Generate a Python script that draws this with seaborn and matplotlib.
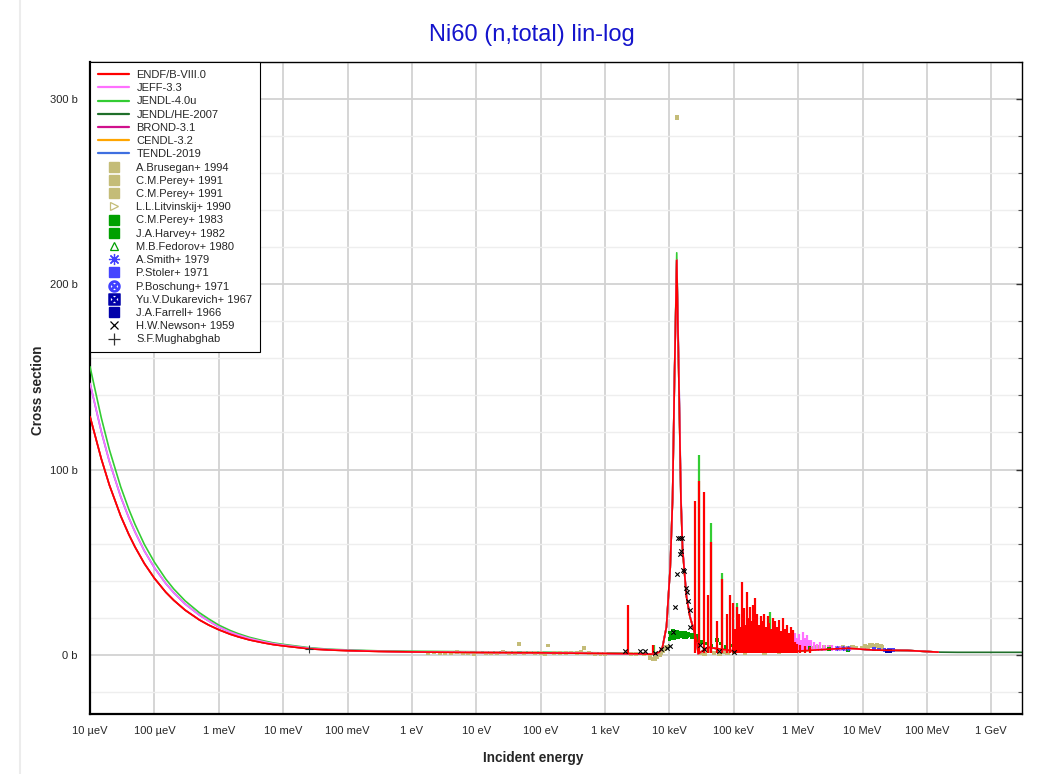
import matplotlib
matplotlib.use("Agg")
import matplotlib.pyplot as plt
import seaborn as sns
from matplotlib.lines import Line2D
from matplotlib.ticker import FixedLocator, MultipleLocator

# ---- evaluated libraries on a common grid (energy in eV, cross section in b)
energy_eV = [1e-5, 1.5e-5, 2e-5, 3e-5, 4e-5, 5e-5, 7e-5, 1e-4, 1.5e-4, 2e-4, 3e-4, 5e-4, 7e-4,
             1e-3, 1.5e-3, 2e-3, 3e-3, 5e-3, 7e-3, 1e-2, 2.53e-2, 5e-2, 0.1, 0.3,
             1, 10, 100, 1e3, 3e3, 5e3, 6e3, 7e3, 7.8e3, 9e3, 1.03e4, 1.12e4, 1.2e4, 1.3e4,
             1.4e4, 1.51e4, 1.6e4, 1.84e4, 2.08e4, 2.65e4, 2.8e4, 4e4, 1e5, 3e5, 1e6, 3e6,
             6e6, 1.5e7, 5e7, 1.5e8]
endf_b = [128.6, 105.7, 91.6, 74.9, 65.0, 58.2, 49.2, 41.3, 33.8, 29.4, 24.1, 18.8, 16.0,
          13.5, 11.1, 9.7, 8.0, 6.4, 5.5, 4.8, 3.2, 2.6, 2.2, 1.8,
          1.5, 1.2, 1.0, 0.7, 0.5, 0.3, 0.4, 1.5, 4.0, 15, 47, 84, 150, 213,
          150, 84, 57, 31.5, 20.7, 8.0, 0.5, 4.0, 2.0, 1.5, 2.0, 3.0,
          3.5, 2.5, 2.3, 1.4]
jeff_b = [146.5, 120.4, 104.3, 85.3, 74.0, 66.3, 56.0, 47.0, 38.5, 33.5, 27.4, 21.4, 18.2,
          15.0, 12.3, 10.7, 8.8, 7.0, 6.0, 5.2, 3.5, 2.8, 2.4, 1.9,
          1.6, 1.3, 1.1, 0.7, 0.5, 0.3, 0.4, 1.5, 4.0, 15, 47, 84, 150, 213,
          155, 86, 58, 32, 21, 8.0, 0.5, 4.0, 2.0, 1.5, 2.5, 3.0,
          3.5, 2.5, 2.3, 1.4]
jendl_b = [155.5, 127.8, 110.7, 90.6, 78.6, 70.4, 59.5, 50.0, 40.9, 35.5, 29.1, 22.7, 19.3,
           16.0, 13.1, 11.4, 9.4, 7.5, 6.4, 5.6, 3.8, 3.0, 2.6, 2.1,
           1.9, 1.6, 1.4, 1.0, 0.6, 0.3, 0.4, 1.5, 4.0, 15, 47, 84, 150, 217,
           150, 84, 57, 31.5, 20.7, 8.0, 0.5, 4.0, 2.0, 1.5, 2.0, 3.0,
           3.5, 2.5, 2.3, 1.4]

he_E = [1.5e7, 5e7, 1.5e8, 3e8, 1e9, 3e9]
he_b = [2.5, 2.3, 1.4, 1.3, 1.3, 1.3]

# narrow resonances (peak heights)
endf_res_E = [2.31e3, 5.65e3, 2.47e4, 2.93e4, 3.42e4, 4.04e4, 4.40e4, 5.45e4, 6.68e4, 7.9e4,
              8.8e4, 9.9e4, 1.11e5, 1.21e5, 1.33e5, 1.42e5, 1.60e5, 1.70e5, 1.80e5, 1.93e5,
              2.02e5, 2.15e5, 2.31e5, 2.48e5, 2.62e5, 2.76e5, 2.97e5, 3.19e5, 3.36e5, 3.55e5,
              3.81e5, 4.10e5, 4.40e5, 4.72e5, 5.07e5, 5.45e5, 5.86e5, 6.29e5, 6.76e5, 7.26e5,
              7.80e5, 8.38e5, 8.99e5, 9.66e5, 1.08e6, 1.29e6, 1.54e6]
endf_res_b = [27, 5, 83, 94, 88, 32, 61, 18, 41, 22,
              32, 28, 26, 22, 39, 25, 34, 20, 26, 18,
              27, 30.5, 22, 16, 21, 18, 22, 15, 21, 17,
              14, 20, 18, 15, 19, 13, 20, 14, 16, 12,
              15, 13.5, 7, 6, 5, 4.5, 4]
endf_fill_E = [1.05e5, 1.16e5, 1.27e5, 1.37e5, 1.50e5, 1.65e5, 1.75e5, 1.87e5, 1.97e5, 2.08e5,
               2.23e5, 2.40e5, 2.55e5, 2.69e5, 2.86e5, 3.08e5, 3.28e5, 3.45e5, 3.68e5, 3.95e5,
               4.25e5, 4.56e5, 4.90e5, 5.26e5, 5.65e5, 6.07e5, 6.52e5, 7.0e5, 7.53e5, 8.1e5]
endf_fill_b = [14, 10, 15, 9, 16, 11, 13, 8, 12, 14,
               9, 11, 12, 8, 11, 9, 10, 7, 10, 11,
               8, 10, 7, 9, 8, 9, 7, 8, 6, 7]
jendl_res_E = [5.8e3, 2.93e4, 4.40e4, 6.68e4, 1.11e5, 3.68e5]
jendl_res_b = [5, 108, 71, 44, 28, 23]
jeff_res_E = [8.99e5, 9.66e5, 1.04e6, 1.11e6, 1.20e6, 1.29e6, 1.38e6, 1.48e6, 1.59e6, 1.77e6,
              1.98e6, 2.2e6, 2.54e6, 2.93e6, 3.38e6, 3.9e6, 4.5e6, 5.38e6, 6.4e6]
jeff_res_b = [12, 9, 11, 8, 12.5, 9, 10.8, 8, 8, 7,
              6, 7, 5, 5.5, 5, 4.5, 4.5, 4, 4]
endf_floor = 1.0
jeff_floor = 2.0

# ---- experimental data
brusegan_E = [1.8, 2.2, 2.7, 3.3, 4.1, 5, 6.2, 7.5, 9.2, 11, 14, 17, 21, 26, 32, 40, 46,
              55, 68, 83, 100, 115, 130, 160, 200, 250, 300, 370, 430, 470, 560, 700, 850, 1000]
brusegan_b = [0.9, 1.2, 0.7, 1.1, 0.8, 1.3, 0.9, 1.0, 0.6, 1.2, 0.8, 1.1, 0.9, 1.3, 0.8, 1.0, 6.0,
              0.9, 1.2, 0.7, 1.0, 0.6, 5.0, 0.8, 1.1, 0.9, 1.2, 0.7, 1.5, 3.5, 0.8, 0.6, 0.4, 0.2]
perey91_E = [2.5e3, 3e3, 4e3, 5e3, 5.5e3, 6e3, 6.5e3, 7e3, 7.5e3, 8e3, 8.5e3, 9e3, 1.32e4,
             3e4, 3.5e4, 4e4, 5e4, 6e4, 7e4, 8e4, 1e5, 1.2e5, 1.5e5, 2e5, 2.5e5, 3e5, 4e5,
             5e5, 6e5, 8e5, 1e6, 1.3e6, 1.6e6, 2e6, 2.5e6, 3e6, 4e6, 5e6, 6e6, 7e6, 8e6,
             1e7, 1.1e7, 1.2e7, 1.3e7, 1.4e7, 1.5e7, 1.6e7, 1.7e7, 1.8e7, 1.9e7, 2e7]
perey91_b = [0.5, 0.3, 0.2, -1.5, -2.5, -2.0, -1.0, 0.0, 1.0, 2.0, 3.0, 4.0, 290,
             1.0, 0.5, 2.0, 1.0, 0.5, 1.5, 0.8, 1.5, 2.0, 1.0, 2.5, 1.8, 1.0, 2.2,
             1.5, 2.5, 3.0, 3.5, 4.0, 3.8, 4.2, 4.0, 4.3, 3.8, 4.0, 3.6, 3.9, 3.5,
             3.8, 4.5, 4.2, 5.2, 5.0, 4.6, 4.8, 5.4, 4.4, 4.9, 4.0]
harvey_E = [1.0e4, 1.03e4, 1.05e4, 1.08e4, 1.1e4, 1.13e4, 1.15e4, 1.18e4, 1.2e4, 1.23e4,
            1.25e4, 1.28e4, 1.3e4, 1.33e4, 1.35e4, 1.38e4, 1.4e4, 1.45e4, 1.5e4, 1.55e4,
            1.6e4, 1.65e4, 1.7e4, 1.75e4, 1.8e4, 1.85e4, 1.9e4, 1.95e4, 2.0e4, 2.1e4,
            2.2e4, 2.3e4, 2.4e4, 2.5e4, 2.6e4, 2.7e4, 3.2e4, 3.6e4, 4.5e4, 5.5e4,
            6.2e4, 7.5e4, 9e4, 1.1e5, 2.0e5, 5e5, 8e5, 1.5e6, 3e6, 6e6]
harvey_b = [8.5, 12, 10, 9, 11, 13, 10.5, 9, 11.5, 12.5,
            10, 9.5, 11, 12.5, 12, 9.5, 10.5, 11, 10, 12,
            11.5, 9.5, 10.5, 12, 11, 9.5, 10, 11.5, 10.5, 11,
            9.5, 10, 11, 9.5, 10, 8, 7, 6, 5, 8,
            6, 4, 5, 9, 7, 6, 4, 3.5, 3, 2.5]
stoler_E = [1.5e7, 1.8e7, 2.2e7, 2.6e7, 3.0e7]
stoler_b = [3.0, 2.8, 2.6, 2.5, 2.4]
smith_E = [4e6, 5e6, 6e6]
smith_b = [3.8, 3.6, 3.5]
farrell_E = [2.4e7, 2.7e7]
farrell_b = [2.0, 2.0]
newson_E = [2060, 3500, 4200, 6000, 7450, 9200, 10300, 11200, 12300, 13200, 13700, 14400,
            14700, 15300, 15800, 16400, 16600, 18300, 18500, 19600, 20600, 21100,
            30000, 35000, 60000, 100000]
newson_b = [1.8, 1.8, 1.8, 1.0, 3.0, 3.7, 4.5, 12.5, 26, 43.5, 63, 54.5,
            63, 56, 63, 46, 45, 36, 34, 29, 24, 15,
            5, 3, 2, 1.5]
mugh_E = [0.0253]
mugh_b = [3.0]

xtick_vals = [1e-5, 1e-4, 1e-3, 1e-2, 1e-1, 1, 10, 100, 1e3, 1e4, 1e5, 1e6, 1e7, 1e8, 1e9]
xtick_labels = ['10 µeV', '100 µeV', '1 meV', '10 meV', '100 meV', '1 eV', '10 eV', '100 eV',
                '1 keV', '10 keV', '100 keV', '1 MeV', '10 MeV', '100 MeV', '1 GeV']
ytick_vals = [0, 100, 200, 300]
ytick_labels = ['0 b', '100 b', '200 b', '300 b']

lib_names = ['ENDF/B-VIII.0', 'JEFF-3.3', 'JENDL-4.0u', 'JENDL/HE-2007', 'BROND-3.1',
             'CENDL-3.2', 'TENDL-2019']
lib_colors = ['#ff0000', '#ff70ff', '#33cc33', '#1f6f2a', '#d0108c', '#ffa500', '#3f6fe0']
olive = '#c4bc78'
green = '#00a000'

sns.set_style("white")
plt.rcParams['font.family'] = ['Liberation Sans', 'DejaVu Sans']

fig = plt.figure(figsize=(10.53, 7.74), dpi=100)
ax = fig.add_axes([90 / 1053, 1 - 714 / 774, 932 / 1053, 652 / 774])
ax.set_xscale('log')

lw = 1.2
# hidden / underlying libraries first, ENDF on top
sns.lineplot(x=he_E, y=he_b, ax=ax, color=lib_colors[3], lw=lw, estimator=None, sort=False, zorder=2)
sns.lineplot(x=energy_eV, y=jeff_b, ax=ax, color=lib_colors[6], lw=lw, estimator=None, sort=False, zorder=2)
sns.lineplot(x=energy_eV, y=endf_b, ax=ax, color=lib_colors[5], lw=lw, estimator=None, sort=False, zorder=2)
sns.lineplot(x=energy_eV, y=endf_b, ax=ax, color=lib_colors[4], lw=lw, estimator=None, sort=False, zorder=2)
sns.lineplot(x=energy_eV, y=jendl_b, ax=ax, color=lib_colors[2], lw=lw, estimator=None, sort=False, zorder=3)
ax.vlines(jendl_res_E, endf_floor, jendl_res_b, color=lib_colors[2], lw=1.6, zorder=3)
sns.lineplot(x=energy_eV, y=jeff_b, ax=ax, color=lib_colors[1], lw=lw, estimator=None, sort=False, zorder=3.5)
ax.vlines(jeff_res_E, jeff_floor, jeff_res_b, color=lib_colors[1], lw=1.6, zorder=3.5)

# experimental points
sns.scatterplot(x=brusegan_E, y=brusegan_b, ax=ax, marker='s', s=8, color=olive, edgecolor='none', zorder=3.2)
sns.scatterplot(x=perey91_E, y=perey91_b, ax=ax, marker='s', s=9, color=olive, edgecolor='none', zorder=3.2)
sns.scatterplot(x=harvey_E, y=harvey_b, ax=ax, marker='s', s=7, color=green, edgecolor='none', zorder=3.6)
sns.scatterplot(x=smith_E, y=smith_b, ax=ax, marker=(8, 2, 0), s=10, color='#4040ff', linewidth=0.6, zorder=3.6)
sns.scatterplot(x=stoler_E, y=stoler_b, ax=ax, marker='s', s=7, color='#4444ff', edgecolor='none', zorder=3.6)
sns.scatterplot(x=farrell_E, y=farrell_b, ax=ax, marker='s', s=7, color='#0000aa', edgecolor='none', zorder=3.6)

sns.lineplot(x=energy_eV, y=endf_b, ax=ax, color=lib_colors[0], lw=lw, estimator=None, sort=False, zorder=4)
ax.vlines(endf_fill_E, endf_floor, endf_fill_b, color=lib_colors[0], lw=1.6, zorder=4)
ax.vlines(endf_res_E, endf_floor, endf_res_b, color=lib_colors[0], lw=1.6, zorder=4)

sns.scatterplot(x=newson_E, y=newson_b, ax=ax, marker='x', s=10, color='black', linewidth=0.8, zorder=5)
sns.scatterplot(x=mugh_E, y=mugh_b, ax=ax, marker='+', s=40, color='#333333', linewidth=0.8, zorder=5)

ax.set_xlim(1e-5, 3e9)
ax.set_ylim(-32, 320)
ax.set_xticks(xtick_vals)
ax.set_xticklabels(xtick_labels)
ax.xaxis.set_minor_locator(FixedLocator([]))
ax.set_yticks(ytick_vals)
ax.set_yticklabels(ytick_labels)
ax.yaxis.set_minor_locator(MultipleLocator(20))
ax.set_xlabel('')
ax.set_ylabel('')

ax.grid(which='major', color='#d2d2d2', lw=1.3)
ax.grid(which='minor', axis='y', color='#eeeeee', lw=1.0)
ax.set_axisbelow(True)

ax.tick_params(axis='both', which='major', direction='out', length=5, width=1, labelsize=8,
               color='#333333', pad=4)
ax.tick_params(axis='y', which='minor', direction='in', length=3, width=0.8, color='#555555')
ax.tick_params(axis='y', which='both', right=True)
for side in ['left', 'bottom']:
    ax.spines[side].set_linewidth(1.6)
    ax.spines[side].set_color('black')
for side in ['top', 'right']:
    ax.spines[side].set_linewidth(1.0)
    ax.spines[side].set_color('black')
# right side ticks point inward
for t in ax.yaxis.get_major_ticks():
    t.tick2line.set_marker(matplotlib.lines.TICKLEFT)
    t.tick2line.set_markersize(4)

# legend
handles = [Line2D([], [], color=c, lw=1.6) for c in lib_colors]
exp_labels = ['A.Brusegan+ 1994', 'C.M.Perey+ 1991', 'C.M.Perey+ 1991', 'L.L.Litvinskij+ 1990',
              'C.M.Perey+ 1983', 'J.A.Harvey+ 1982', 'M.B.Fedorov+ 1980', 'A.Smith+ 1979',
              'P.Stoler+ 1971', 'P.Boschung+ 1971', 'Yu.V.Dukarevich+ 1967', 'J.A.Farrell+ 1966',
              'H.W.Newson+ 1959', 'S.F.Mughabghab']
handles += [
    Line2D([], [], ls='none', marker='s', ms=7, color=olive),
    Line2D([], [], ls='none', marker='s', ms=7, color=olive),
    Line2D([], [], ls='none', marker='s', ms=7, color=olive),
    Line2D([], [], ls='none', marker='>', ms=6, color=olive, fillstyle='none', mew=0.9),
    Line2D([], [], ls='none', marker='s', ms=7, color=green),
    Line2D([], [], ls='none', marker='s', ms=7, color=green),
    Line2D([], [], ls='none', marker='^', ms=6, color=green, fillstyle='none', mew=0.9),
    Line2D([], [], ls='none', marker=(8, 2, 0), ms=8, color='#4040ff', mew=0.9),
    Line2D([], [], ls='none', marker='s', ms=7, color='#4444ff'),
    Line2D([], [], ls='none', marker='$\\otimes$', ms=8, color='#4040ff'),
    Line2D([], [], ls='none', marker='$\\boxtimes$', ms=8, color='#0000aa'),
    Line2D([], [], ls='none', marker='s', ms=7, color='#0000aa'),
    Line2D([], [], ls='none', marker='x', ms=6, color='black', mew=0.9),
    Line2D([], [], ls='none', marker='+', ms=8, color='#333333', mew=0.9),
]
leg = ax.legend(handles, lib_names + exp_labels, loc='upper left', bbox_to_anchor=(0, 1),
                borderaxespad=0, fontsize=8, frameon=True, fancybox=False, edgecolor='black',
                framealpha=1, handlelength=2.8, handletextpad=0.65, labelspacing=0.29,
                borderpad=0.72)
leg.get_frame().set_linewidth(0.8)
leg.set_zorder(10)

fig.text(532 / 1053, 1 - 35 / 774, 'Ni60 (n,total) lin-log', color='#1414cc', fontsize=17,
         ha='center', va='center')
fig.text(38 / 1053, 1 - 390 / 774, 'Cross section', rotation=90, fontweight='bold', fontsize=9.8,
         ha='center', va='center')
fig.text(533 / 1053, 1 - 758 / 774, 'Incident energy', fontweight='bold', fontsize=9.8,
         ha='center', va='center')
fig.add_artist(Line2D([20 / 1053, 20 / 1053], [0, 1], transform=fig.transFigure, color='#ececec', lw=1.5))

fig.savefig('out.png', dpi=100)
